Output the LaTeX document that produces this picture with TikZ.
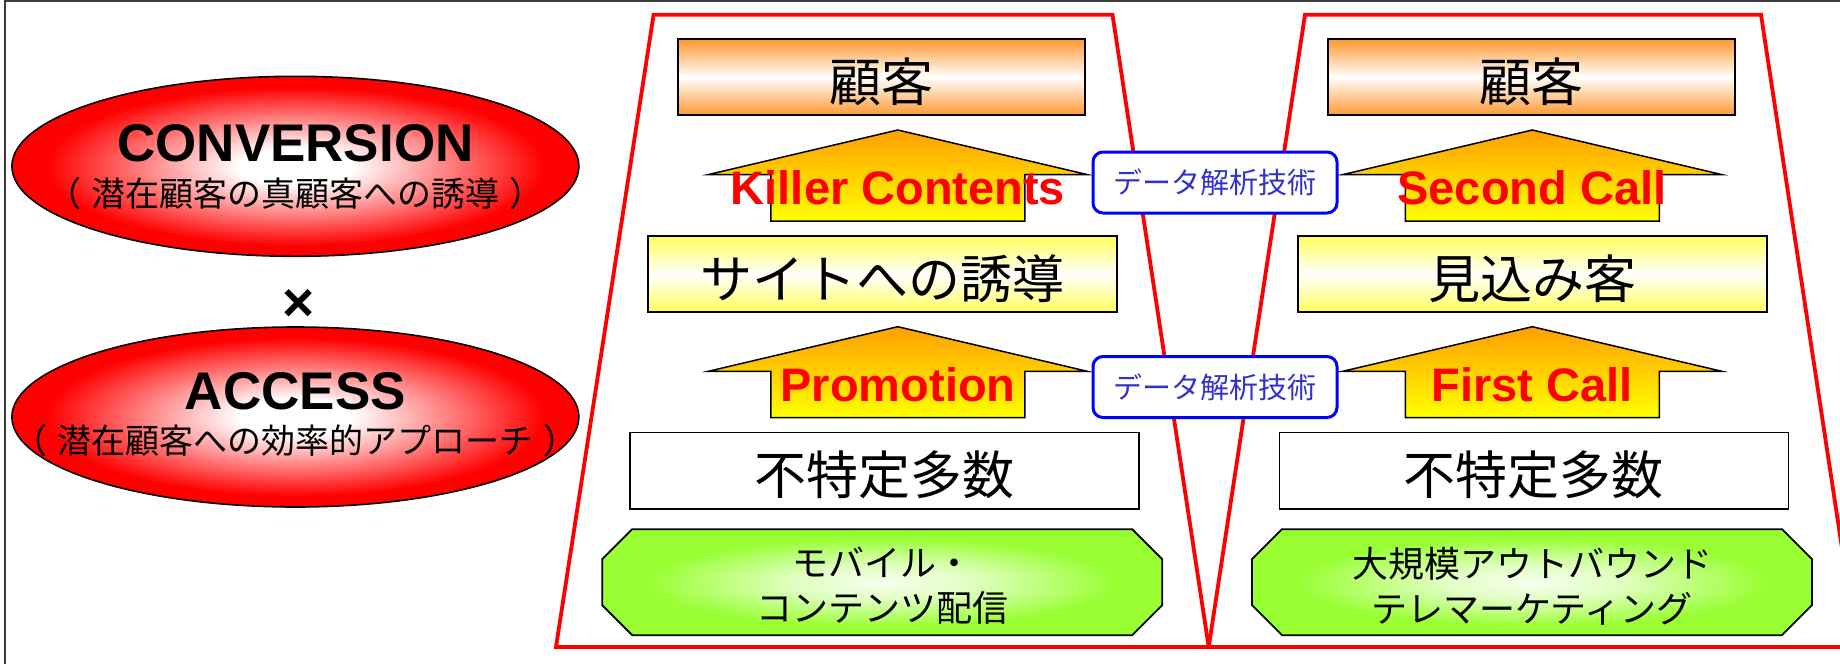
\documentclass[tikz,border=0pt]{standalone}
\usepackage{fontspec}
\usetikzlibrary{shapes.geometric}
\newfontfamily\jp{Noto Sans CJK JP}
\newfontfamily\arial{Liberation Sans}
\definecolor{boxorange}{RGB}{255,153,51}
\definecolor{boxyellow}{RGB}{255,255,90}
\definecolor{arrorange}{RGB}{255,160,0}
\definecolor{arryellow}{RGB}{255,255,0}
\definecolor{hexgreen}{RGB}{153,255,51}
\colorlet{hexpale}{white!92!hexgreen}
\colorlet{hexmid}{white!70!hexgreen}
\definecolor{datablue}{RGB}{0,0,255}
\definecolor{datatext}{RGB}{51,51,204}
\definecolor{framegray}{RGB}{60,60,60}
\definecolor{ellred}{RGB}{255,0,0}
\pgfdeclareradialshading{ellshade}{\pgfpoint{0bp}{0bp}}{color(0bp)=(white);color(5bp)=(white);color(22bp)=(ellred);color(25bp)=(ellred);color(50bp)=(ellred)}
\pgfdeclareradialshading{hexshade}{\pgfpoint{0bp}{0bp}}{color(0bp)=(hexpale);color(8bp)=(hexmid);color(21bp)=(hexgreen);color(50bp)=(hexgreen)}
\tikzset{
  redline/.style={draw=red, line width=3.8pt, line join=miter},
  frameline/.style={draw=framegray, line width=1.8pt},
  ellnode/.style={ellipse, draw=black, line width=1.6pt, shading=ellshade,
    minimum width=567pt, minimum height=180pt, inner sep=0pt},
  bigtitle/.style={font={\arial\bfseries\fontsize{53}{60}\selectfont}, anchor=base, inner sep=0pt},
  subtitle/.style={font={\jp\fontsize{34}{38}\selectfont}, inner sep=0pt},
  crossstyle/.style={font={\arial\bfseries\fontsize{55}{60}\selectfont}, inner sep=0pt},
  custbox/.style={draw=black, line width=2pt, top color=boxorange, bottom color=boxorange,
    middle color=white, minimum width=407pt, minimum height=75.7pt, inner sep=0pt},
  sitebox/.style={draw=black, line width=2pt, top color=boxyellow, bottom color=boxyellow,
    middle color=white, minimum width=469.3pt, minimum height=76.3pt, inner sep=0pt},
  crowdbox/.style={draw=black, line width=1.6pt, fill=white,
    minimum width=509pt, minimum height=76.4pt, inner sep=0pt},
  bigjp/.style={font={\jp\fontsize{52}{60}\selectfont}, inner sep=0pt},
  arrowfill/.style={draw=black, line width=1.5pt, top color=arrorange, bottom color=arryellow, line join=miter},
  arrowlabel/.style={font={\arial\bfseries\fontsize{47}{55}\selectfont}, text=red, anchor=base, inner sep=0pt},
  databox/.style={draw=datablue, line width=3pt, fill=white, rounded corners=10pt,
    minimum width=244pt, minimum height=61pt, inner sep=0pt, text=datatext,
    font={\jp\fontsize{29}{34}\selectfont}},
  hexfill/.style={draw=black, line width=1.8pt, shading=hexshade},
  hextext/.style={font={\jp\fontsize{36}{45}\selectfont}, align=center, inner sep=0pt}
}
\newcommand{\myuparrow}[2]{%
  \path[arrowfill] (#1,#2) -- ++(189.5,44.6) -- ++(-62.5,0) -- ++(0,46.4)
    -- ++(-254,0) -- ++(0,-46.4) -- ++(-62.5,0) -- cycle;}
\newcommand{\myhex}[2]{%
  \path[hexfill] (#1-280,#2-23) -- (#1-250,#2-53) -- (#1+250,#2-53) -- (#1+280,#2-23)
    -- (#1+280,#2+23) -- (#1+250,#2+53) -- (#1-250,#2+53) -- (#1-280,#2+23) -- cycle;}
\begin{document}
\begin{tikzpicture}[x=1pt,y=-1pt]
\useasboundingbox (0,0) rectangle (1840,664);
\clip (0,0) rectangle (1840,664);
\fill[white] (0,0) rectangle (1840,664);
\draw[frameline] (4.7,664) -- (4.7,0.8) -- (1840,0.8);
% funnels
\draw[redline] (653.6,14.7) -- (1112.5,14.7) -- (1208.7,647) -- (556,647) -- cycle;
\draw[redline] (1305,14.7) -- (1761,14.7) -- (1857,647) -- (1208.7,647) -- cycle;
% left ellipses
\node[ellnode] (conv) at (295.4,166.3) {};
\node[bigtitle] (convt) at (295.4,161) {CONVERSION};
\node[subtitle] (convs) at (295.4,194) {（\hspace{10pt}潜在顧客の真顧客への誘導\hspace{10pt}）};
\node[crossstyle] (times) at (299,305) {×};
\node[ellnode] (acc) at (295.4,417) {};
\node[bigtitle] (acct) at (295.4,409) {ACCESS};
\node[subtitle] (accs) at (295.4,440.7) {（\hspace{10pt}潜在顧客への効率的アプローチ\hspace{10pt}）};
% left column
\node[custbox] (cusL) at (881.8,77.2) {};
\node[bigjp] (cusLt) at (881.8,81.7) {顧客};
\myuparrow{897.8}{130}
\node[sitebox] (siteL) at (882.2,274.2) {};
\node[bigjp] (siteLt) at (882.2,278.6) {サイトへの誘導};
\myuparrow{897.8}{326.7}
\node[crowdbox] (crowdL) at (884.7,470.5) {};
\node[bigjp] (crowdLt) at (884.7,475) {不特定多数};
\myhex{882.2}{582.2}
\node[hextext] (hexLt) at (882.2,586) {モバイル・\\コンテンツ配信};
% right column
\node[custbox] (cusR) at (1531.9,77.2) {};
\node[bigjp] (cusRt) at (1531.9,81.7) {顧客};
\myuparrow{1532.3}{130}
\node[sitebox] (siteR) at (1532.7,274.2) {};
\node[bigjp] (siteRt) at (1532.7,278.6) {見込み客};
\myuparrow{1532.3}{326.7}
\node[crowdbox] (crowdR) at (1533.8,470.5) {};
\node[bigjp] (crowdRt) at (1533.8,475) {不特定多数};
\myhex{1532}{582.2}
\node[hextext] (hexRt) at (1532,586) {大規模アウトバウンド\\テレマーケティング};
% arrow labels
\node[arrowlabel] (killer) at (898,204) {Killer Contents};
\node[arrowlabel] (promo) at (898,401.7) {Promotion};
\node[arrowlabel] (second) at (1532,204) {Second Call};
\node[arrowlabel] (first) at (1532,401.7) {First Call};
% data boxes
\node[databox] (data1) at (1215,182.5) {データ解析技術};
\node[databox] (data2) at (1215,387) {データ解析技術};
\end{tikzpicture}
\end{document}
